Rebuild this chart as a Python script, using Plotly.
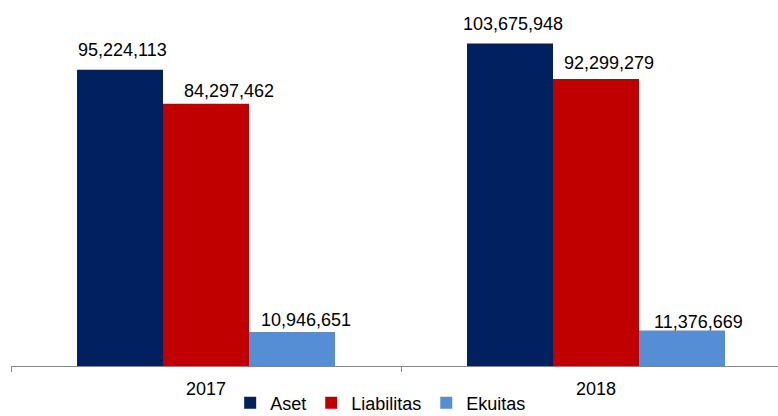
import plotly.graph_objects as go

# Data
years = ["2017", "2018"]
series_names = ["Aset", "Liabilitas", "Ekuitas"]
aset = [95224113, 103675948]
liabilitas = [84297462, 92299279]
ekuitas = [10946651, 11376669]

colors = ["#002060", "#C00000", "#558ED5"]

# Label nudges (pixels) per series, per year
label_dx = [[2.5, 3.3], [22.5, 12.7], [14.3, 16.7]]
label_dy = [[7.7, 7.7], [1.0, 4.0], [0.0, -3.3]]

FONT = "Liberation Sans, Arial, sans-serif"
BARGAP = 0.3385

values = [aset, liabilitas, ekuitas]

fig = go.Figure()
for name, vals, col in zip(series_names, values, colors):
    fig.add_trace(go.Bar(
        x=years, y=vals, name=name,
        marker=dict(color=col, line=dict(width=0)),
    ))

# Value labels above each bar
bar_w = (1 - BARGAP) / len(series_names)
annotations = []
for i, vals in enumerate(values):
    off = (i - (len(series_names) - 1) / 2) * bar_w
    for j, v in enumerate(vals):
        annotations.append(dict(
            x=j + off, y=v, xref="x", yref="y",
            text=f"{v:,}", showarrow=False,
            xanchor="center", yanchor="bottom",
            xshift=label_dx[i][j], yshift=label_dy[i][j],
            font=dict(family=FONT, size=18, color="#000000"),
        ))

fig.update_layout(
    width=778, height=416,
    margin=dict(l=11, r=0, t=0, b=50, autoexpand=False),
    paper_bgcolor="white", plot_bgcolor="white",
    barmode="group", bargap=BARGAP, bargroupgap=0,
    font=dict(family=FONT, size=18, color="#000000"),
    annotations=annotations,
    showlegend=True,
    legend=dict(
        orientation="h", x=0.482, xanchor="center",
        y=-0.051, yanchor="top",
        font=dict(family=FONT, size=18, color="#000000"),
        itemwidth=30, bgcolor="rgba(0,0,0,0)",
    ),
    xaxis=dict(
        type="category", range=[-0.5, -0.5 + 767 / 390],
        showline=True, linecolor="#868686", linewidth=1,
        ticks="outside", tickson="boundaries", ticklen=5,
        tickcolor="#868686", tickwidth=1,
        ticklabelstandoff=6,
        tickfont=dict(family=FONT, size=18, color="#000000"),
        showgrid=False, zeroline=False,
    ),
    yaxis=dict(
        range=[0, 366 / 3.11e-6], visible=False,
        showgrid=False, zeroline=False,
    ),
)

fig.write_html("out.html")
